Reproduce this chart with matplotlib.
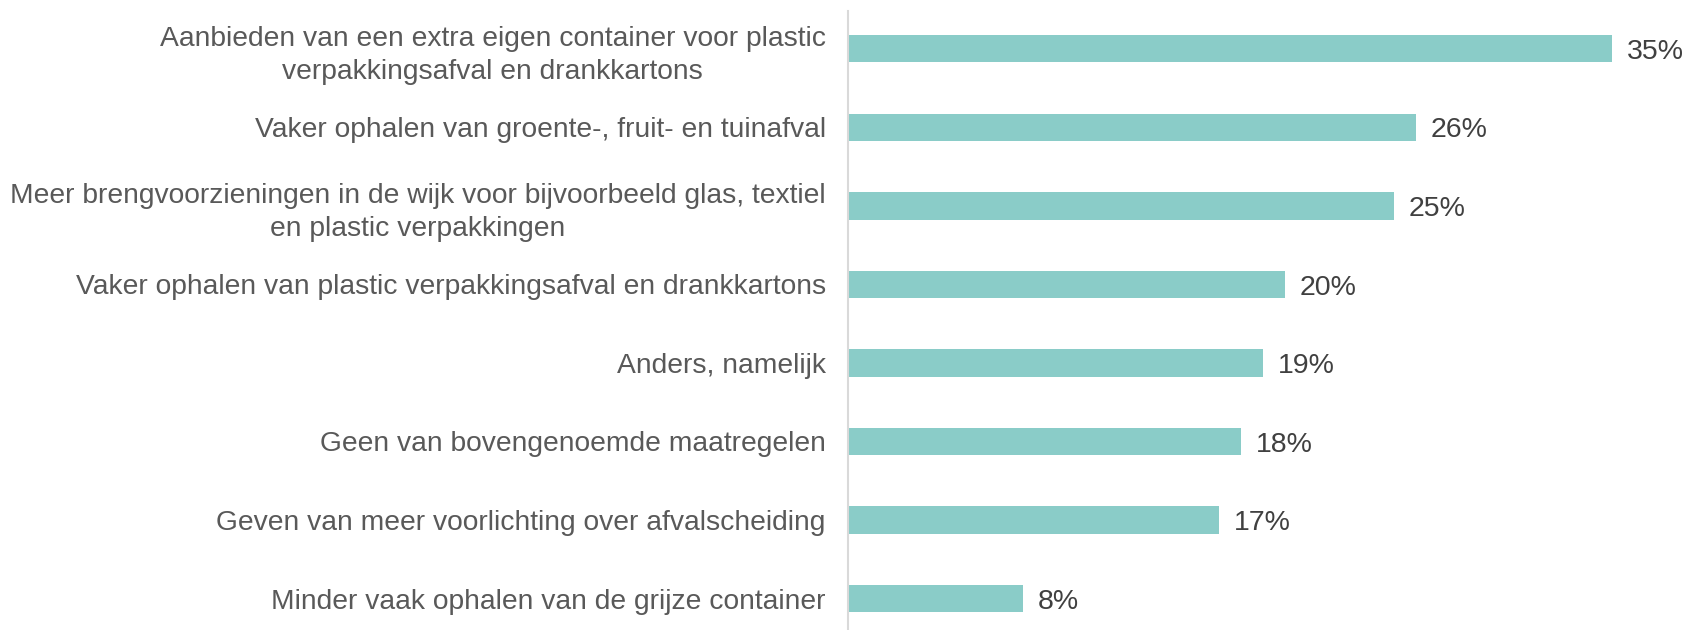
import matplotlib.pyplot as plt

plt.rcParams['font.family'] = ['Liberation Sans', 'DejaVu Sans']

labels = [
    "Aanbieden van een extra eigen container voor plastic\nverpakkingsafval en drankkartons",
    "Vaker ophalen van groente-, fruit- en tuinafval",
    "Meer brengvoorzieningen in de wijk voor bijvoorbeeld glas, textiel\nen plastic verpakkingen",
    "Vaker ophalen van plastic verpakkingsafval en drankkartons",
    "Anders, namelijk",
    "Geen van bovengenoemde maatregelen",
    "Geven van meer voorlichting over afvalscheiding",
    "Minder vaak ophalen van de grijze container",
]
values = [35, 26, 25, 20, 19, 18, 17, 8]

bar_color = "#8ACCC8"

fig = plt.figure(figsize=(16.84, 6.3), dpi=100)
ax = fig.add_axes([848 / 1684, 0.0, 1 - 848 / 1684, 1 - 11 / 630])

pos = list(range(len(values)))
ax.barh(pos, values, height=0.35, color=bar_color)
for y, v in zip(pos, values):
    ax.text(v + 0.7, y + 0.04, f"{v}%", va="center", ha="left", fontsize=20.5, color="#404040")

ax.set_xlim(0, 38.3)
ax.set_ylim(7.4, -0.48)
ax.set_yticks(pos)
ax.set_yticklabels(labels, fontsize=20.3, color="#595959", multialignment="center", linespacing=1.35)
ax.tick_params(axis="y", length=0, pad=16)
ax.set_xticks([])
for s in ["top", "right", "bottom"]:
    ax.spines[s].set_visible(False)
ax.spines["left"].set_color("#D9D9D9")
ax.spines["left"].set_linewidth(1.5)

fig.savefig("out.png", dpi=100)
